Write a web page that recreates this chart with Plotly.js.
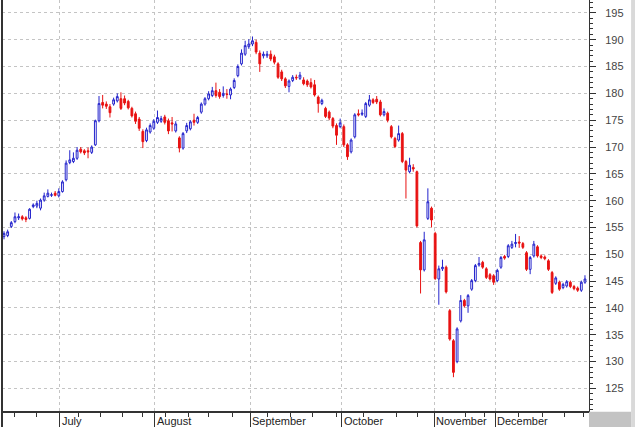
<!DOCTYPE html>
<html>
<head>
<meta charset="utf-8">
<script src="https://cdn.plot.ly/plotly-3.0.1.min.js"></script>
<style>
html,body{margin:0;padding:0;background:#fff;}
#chart{width:635px;height:427px;}
</style>
</head>
<body>
<div id="chart"></div>
<script>
// Daily OHLC values
const opens = [
153.3,153.5,155.2,156.1,156.8,157.0,156.8,156.7,158.9,159.0,
158.6,160.1,160.8,161.0,161.4,160.9,161.7,163.9,167.1,167.3,
167.9,169.6,169.3,169.3,169.0,170.4,174.9,178.3,178.0,177.5,
178.0,178.6,179.0,179.0,178.5,177.2,176.2,175.2,172.9,171.2,
172.8,173.5,174.6,174.8,175.6,174.9,174.5,173.0,171.7,169.8,
173.0,173.4,175.0,174.6,176.5,178.0,179.0,179.6,180.5,180.2,
179.6,179.9,179.7,181.1,183.3,185.5,187.3,188.7,189.2,189.5,
187.5,187.0,187.0,187.3,186.8,185.5,184.0,182.7,181.3,182.4,
183.0,182.8,182.5,182.3,182.0,181.6,179.3,178.1,177.2,176.5,
175.3,174.0,173.8,173.8,170.4,169.1,171.9,176.2,176.1,175.7,
177.8,178.8,178.9,178.4,176.0,176.3,173.8,171.6,171.3,172.5,
167.3,165.4,166.2,165.4,152.2,147.1,156.7,158.6,153.9,145.4,
147.3,147.6,139.5,133.9,130.0,137.6,141.4,140.4,143.5,145.1,
148.0,148.5,147.3,146.2,146.0,145.1,147.6,149.6,149.6,151.3,
152.0,152.3,152.0,150.3,147.2,149.7,151.4,149.7,149.5,148.8,
146.6,144.6,144.8,143.8,144.1,144.8,144.0,143.7,143.3,144.8
];
const highs = [
154.3,154.6,156.2,157.8,157.6,157.3,157.1,158.6,159.5,160.0,
160.4,161.5,162.1,161.5,161.8,162.3,163.8,167.5,169.4,169.0,
170.0,170.0,169.6,169.9,170.3,175.1,179.5,179.7,178.5,178.0,
179.2,180.0,180.2,179.6,178.8,177.5,176.6,175.6,173.3,173.6,
174.4,175.2,176.8,175.8,176.0,175.3,175.6,174.8,172.0,172.8,
174.5,175.0,176.2,175.8,178.3,179.3,180.4,181.2,182.0,180.8,
181.3,180.8,181.1,182.8,185.4,188.2,189.8,190.1,190.6,190.0,
188.0,187.8,187.9,188.0,187.2,185.8,184.4,183.0,182.6,183.4,
183.5,184.0,183.0,182.6,182.8,182.5,179.6,179.0,177.5,176.8,
175.6,174.4,175.3,174.2,170.7,171.6,176.3,177.0,177.0,178.4,
179.7,179.1,179.5,178.8,177.2,176.6,174.1,171.9,174.0,172.8,
167.6,168.0,166.8,165.6,152.5,154.2,162.3,158.9,154.2,147.9,
149.0,147.9,139.8,134.2,136.4,142.4,141.7,142.6,145.4,148.2,
149.5,148.8,147.6,146.5,146.3,147.3,149.7,149.9,151.9,152.5,
153.8,153.4,152.3,150.6,149.7,152.5,151.7,150.0,149.8,149.1,
146.9,145.9,145.1,144.7,145.2,145.1,144.3,144.0,145.1,146.1
];
const lows = [
152.8,153.2,154.9,155.8,156.4,156.3,156.0,156.5,158.6,158.6,
158.2,159.8,160.6,160.7,160.8,160.6,161.5,163.6,166.8,167.0,
167.6,168.8,168.5,167.9,168.7,170.2,174.6,177.2,177.1,175.5,
177.7,178.3,176.9,177.8,177.0,175.5,174.3,173.0,169.8,170.9,
172.5,173.2,174.3,174.5,174.2,172.4,172.9,172.7,169.0,169.5,
172.6,173.1,174.0,174.3,176.2,177.7,178.7,179.3,179.2,179.0,
179.2,179.0,178.9,180.8,183.0,185.2,187.0,188.3,188.8,187.3,
184.0,186.5,186.6,186.0,185.4,182.7,182.3,181.0,180.2,182.1,
182.5,182.5,181.5,181.2,180.9,179.4,176.4,177.8,175.4,175.0,
173.5,170.4,173.5,170.0,167.6,168.8,171.6,175.7,175.8,175.4,
177.5,178.0,178.0,175.7,175.7,174.6,171.6,169.8,171.0,167.0,
160.4,165.1,165.4,155.0,142.7,146.8,156.4,155.0,145.2,140.6,
146.9,142.7,133.9,127.1,129.7,137.3,140.1,139.1,143.2,144.8,
147.7,147.3,145.4,145.1,144.3,144.8,147.3,149.0,149.3,151.0,
151.3,151.2,151.0,146.9,146.3,149.4,149.4,149.1,148.9,146.9,
142.6,144.3,143.2,143.5,143.8,143.7,143.3,143.0,143.0,144.5
];
const closes = [
153.9,154.2,155.9,157.0,157.0,156.6,156.5,158.4,159.2,159.5,
160.1,160.9,161.4,161.1,161.0,161.7,163.5,167.0,167.6,167.9,
169.4,169.1,168.9,169.1,170.0,174.9,178.1,177.8,177.6,176.4,
178.8,179.4,177.2,178.2,177.3,175.8,174.8,173.5,171.0,173.2,
174.0,174.8,175.5,175.3,174.6,173.0,174.3,174.3,169.8,172.5,
174.0,174.7,174.6,175.5,178.0,179.0,179.9,180.5,179.6,179.4,
180.0,179.8,180.8,182.4,185.0,187.5,188.9,189.2,189.8,187.7,
185.5,187.3,187.3,186.4,185.8,183.0,182.7,181.4,182.3,183.0,
182.9,183.4,181.8,181.6,181.2,179.7,178.1,178.7,175.7,175.4,
173.9,172.2,174.5,170.4,168.2,171.3,176.0,176.0,176.3,178.1,
178.8,178.3,178.4,176.0,176.6,175.0,171.9,170.1,172.5,167.3,
165.7,166.6,165.9,155.3,147.1,152.7,159.8,156.4,145.5,147.3,
147.6,143.0,134.2,128.0,136.1,141.4,140.4,142.3,145.1,147.9,
148.3,147.6,145.7,145.4,144.8,147.0,149.4,149.3,151.6,151.9,
152.2,152.1,151.3,147.2,149.4,151.9,149.7,149.4,149.2,147.2,
142.9,145.6,143.5,144.4,144.9,144.0,143.6,143.3,144.8,145.4
];

// Month labels and where each month begins (in trading-day index units)
const months = ['July','August','September','October','November','December'];
const monthStarts = [15.2, 41.2, 67.4, 92.5, 117.8, 134.5];
// Weekly minor tick positions (trading-day index units)
const weekTicks = [3.0,9.0,20.3,26.3,32.3,38.0,44.1,50.4,56.1,62.4,72.2,78.3,84.3,
                   90.9,98.5,107.3,113.3,126.2,131.6,140.7,147.5,153.3,158.5];

const dayIndex = opens.map((_, i) => i);

const trace = {
  type: 'candlestick',
  x: dayIndex,
  open: opens, high: highs, low: lows, close: closes,
  increasing: {line: {color: '#2323cc', width: 1}, fillcolor: '#ffffff'},
  decreasing: {line: {color: '#e81212', width: 1}, fillcolor: '#e81212'},
  whiskerwidth: 0,
  hoverinfo: 'skip',
  showlegend: false
};

const gridColor = '#c4c4c4';
const axisColor = '#333333';

const layout = {
  width: 635, height: 427,
  margin: {l: 2, r: 46, t: 0, b: 16, pad: 0},
  paper_bgcolor: '#ffffff',
  plot_bgcolor: '#ffffff',
  showlegend: false,
  font: {family: '"Liberation Sans", Arial, sans-serif', size: 11, color: '#444'},
  xaxis: {
    type: 'linear',
    range: [-0.547, 160.1],
    tickmode: 'array',
    tickvals: monthStarts,
    showticklabels: false,
    ticks: 'outside', ticklen: 16, tickwidth: 1, tickcolor: axisColor,
    showgrid: true, gridcolor: gridColor, gridwidth: 1, griddash: '3px,3px',
    showline: true, linecolor: axisColor, linewidth: 2,
    zeroline: false,
    rangeslider: {visible: false},
    fixedrange: true,
    minor: {tickmode: 'array', tickvals: weekTicks, ticks: 'outside', ticklen: 4,
            tickwidth: 1, tickcolor: axisColor, showgrid: false}
  },
  yaxis: {
    side: 'right',
    range: [120.8, 197.4],
    tick0: 0, dtick: 5,
    ticks: 'outside', ticklen: 6, tickwidth: 1, tickcolor: axisColor,
    ticklabelstandoff: 7,
    tickfont: {size: 11, color: '#444'},
    showgrid: true, gridcolor: gridColor, gridwidth: 1, griddash: '3px,3px',
    showline: true, linecolor: axisColor, linewidth: 1,
    zeroline: false,
    fixedrange: true,
    minor: {dtick: 1, ticks: 'outside', ticklen: 3, tickwidth: 1, tickcolor: axisColor, showgrid: false}
  },
  shapes: [
    {type: 'line', xref: 'paper', yref: 'paper', x0: 0, x1: 0, y0: -0.04, y1: 1,
     line: {color: axisColor, width: 2}},
    {type: 'rect', xref: 'paper', yref: 'paper', x0: 1.0, x1: 1.0717, y0: -0.04, y1: -0.002,
     fillcolor: '#c3c3c3', line: {width: 0}, layer: 'above'},
    {type: 'rect', xref: 'paper', yref: 'paper', x0: 1.0717, x1: 1.08, y0: -0.04, y1: 1,
     fillcolor: '#d9d9d9', line: {width: 0}, layer: 'above'}
  ],
  annotations: months.map((m, i) => ({
    text: m, x: monthStarts[i], xref: 'x', y: 0, yref: 'paper',
    xanchor: 'left', yanchor: 'top', xshift: 1, yshift: -3,
    showarrow: false, borderpad: 0,
    font: {family: '"Liberation Sans", Arial, sans-serif', size: 11, color: '#222'}
  }))
};

Plotly.newPlot('chart', [trace], layout, {displayModeBar: false, staticPlot: true});
</script>
</body>
</html>
